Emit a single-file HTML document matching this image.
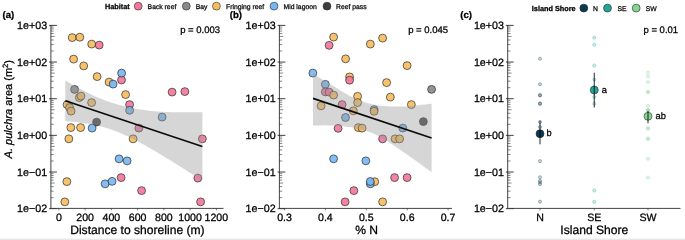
<!DOCTYPE html>
<html><head><meta charset="utf-8"><title>figure</title>
<style>html,body{margin:0;padding:0;background:#fff;}body{width:685px;height:240px;overflow:hidden;font-family:"Liberation Sans", sans-serif;}#fig text{stroke:#000;stroke-width:0.27px;}#fig{display:block;font-family:"Liberation Sans", sans-serif;text-rendering:geometricPrecision;will-change:transform}</style>
</head><body>
<svg width="685" height="240" viewBox="0 0 685 240" id="fig">
<rect width="685" height="240" fill="#fff"/>
<rect x="0" y="238.6" width="685" height="1.4" fill="#e8e8e8"/>
<path d="M50.9 25.1V208.4" stroke="#3a3a3a" stroke-width="0.95" fill="none"/>
<path d="M50.9 51.02H53.7M50.9 44.56H53.7M50.9 39.98H53.7M50.9 36.43H54.7M50.9 33.53H53.7M50.9 31.08H53.7M50.9 28.95H53.7M50.9 27.08H53.7M50.9 87.67H53.7M50.9 81.21H53.7M50.9 76.63H53.7M50.9 73.08H54.7M50.9 70.18H53.7M50.9 67.73H53.7M50.9 65.60H53.7M50.9 63.73H53.7M50.9 124.32H53.7M50.9 117.86H53.7M50.9 113.28H53.7M50.9 109.73H54.7M50.9 106.83H53.7M50.9 104.38H53.7M50.9 102.25H53.7M50.9 100.38H53.7M50.9 160.97H53.7M50.9 154.51H53.7M50.9 149.93H53.7M50.9 146.38H54.7M50.9 143.48H53.7M50.9 141.03H53.7M50.9 138.90H53.7M50.9 137.03H53.7M50.9 197.62H53.7M50.9 191.16H53.7M50.9 186.58H53.7M50.9 183.03H54.7M50.9 180.13H53.7M50.9 177.68H53.7M50.9 175.55H53.7M50.9 173.68H53.7" stroke="#222" stroke-width="0.55" fill="none"/>
<path d="M49.1 25.40H56.9M49.1 62.05H56.9M49.1 98.70H56.9M49.1 135.35H56.9M49.1 172.00H56.9M49.1 208.65H56.9" stroke="#111" stroke-width="0.8" fill="none"/>
<text x="47.15" y="29.15" font-size="10.7" text-anchor="end" fill="#000">1e+03</text>
<text x="47.15" y="65.80" font-size="10.7" text-anchor="end" fill="#000">1e+02</text>
<text x="47.15" y="102.45" font-size="10.7" text-anchor="end" fill="#000">1e+01</text>
<text x="47.15" y="139.10" font-size="10.7" text-anchor="end" fill="#000">1e+00</text>
<text x="47.15" y="175.75" font-size="10.7" text-anchor="end" fill="#000">1e−01</text>
<text x="47.15" y="212.40" font-size="10.7" text-anchor="end" fill="#000">1e−02</text>
<path d="M50.5 208.4H223.5" stroke="#3a3a3a" stroke-width="0.95" fill="none"/>
<path d="M58.85 208.4v1.9M85.10 208.4v1.9M111.35 208.4v1.9M137.60 208.4v1.9M163.85 208.4v1.9M190.10 208.4v1.9M216.35 208.4v1.9" stroke="#3a3a3a" stroke-width="0.7" fill="none"/>
<circle cx="72.2" cy="37.6" r="3.95" fill="#f6bd60" fill-opacity="0.92" stroke="#262626" stroke-width="0.68"/>
<circle cx="79.85" cy="37.2" r="3.95" fill="#f6bd60" fill-opacity="0.92" stroke="#262626" stroke-width="0.68"/>
<circle cx="91.7" cy="44.1" r="3.95" fill="#f6bd60" fill-opacity="0.92" stroke="#262626" stroke-width="0.68"/>
<circle cx="99.2" cy="45.1" r="3.95" fill="#f2789a" fill-opacity="0.92" stroke="#262626" stroke-width="0.68"/>
<circle cx="73.6" cy="59.1" r="3.95" fill="#f6bd60" fill-opacity="0.92" stroke="#262626" stroke-width="0.68"/>
<circle cx="83.7" cy="65.9" r="3.95" fill="#f6bd60" fill-opacity="0.92" stroke="#262626" stroke-width="0.68"/>
<circle cx="97.1" cy="76.6" r="3.95" fill="#f6bd60" fill-opacity="0.92" stroke="#262626" stroke-width="0.68"/>
<circle cx="109.1" cy="82.1" r="3.95" fill="#f6bd60" fill-opacity="0.92" stroke="#262626" stroke-width="0.68"/>
<circle cx="113.1" cy="84.1" r="3.95" fill="#78b7f1" fill-opacity="0.92" stroke="#262626" stroke-width="0.68"/>
<circle cx="121.5" cy="80.0" r="3.95" fill="#f2789a" fill-opacity="0.92" stroke="#262626" stroke-width="0.68"/>
<circle cx="121.6" cy="73.1" r="3.95" fill="#78b7f1" fill-opacity="0.92" stroke="#262626" stroke-width="0.68"/>
<circle cx="125.6" cy="94.6" r="3.95" fill="#f6bd60" fill-opacity="0.92" stroke="#262626" stroke-width="0.68"/>
<circle cx="129.6" cy="104.6" r="3.95" fill="#f2789a" fill-opacity="0.92" stroke="#262626" stroke-width="0.68"/>
<circle cx="129.6" cy="110.3" r="3.95" fill="#78b7f1" fill-opacity="0.92" stroke="#262626" stroke-width="0.68"/>
<circle cx="172.1" cy="92.1" r="3.95" fill="#f2789a" fill-opacity="0.92" stroke="#262626" stroke-width="0.68"/>
<circle cx="184.85" cy="91.6" r="3.95" fill="#f2789a" fill-opacity="0.92" stroke="#262626" stroke-width="0.68"/>
<circle cx="162.1" cy="117.1" r="3.95" fill="#78b7f1" fill-opacity="0.92" stroke="#262626" stroke-width="0.68"/>
<circle cx="74.6" cy="89.4" r="3.95" fill="#8a8a8a" fill-opacity="0.92" stroke="#262626" stroke-width="0.68"/>
<circle cx="79.3" cy="97.6" r="3.95" fill="#f6bd60" fill-opacity="0.92" stroke="#262626" stroke-width="0.68"/>
<circle cx="81.0" cy="96.1" r="3.95" fill="#f6bd60" fill-opacity="0.92" stroke="#262626" stroke-width="0.68"/>
<circle cx="91.6" cy="102.6" r="3.95" fill="#f6bd60" fill-opacity="0.92" stroke="#262626" stroke-width="0.68"/>
<circle cx="67.1" cy="104.6" r="3.95" fill="#f6bd60" fill-opacity="0.92" stroke="#262626" stroke-width="0.68"/>
<circle cx="69.6" cy="107.6" r="3.95" fill="#f6bd60" fill-opacity="0.92" stroke="#262626" stroke-width="0.68"/>
<circle cx="71.1" cy="111.1" r="3.95" fill="#f6bd60" fill-opacity="0.92" stroke="#262626" stroke-width="0.68"/>
<circle cx="96.6" cy="122.1" r="3.95" fill="#3d3d3d" fill-opacity="0.92" stroke="#262626" stroke-width="0.68"/>
<circle cx="70.85" cy="127.6" r="3.95" fill="#f6bd60" fill-opacity="0.92" stroke="#262626" stroke-width="0.68"/>
<circle cx="80.6" cy="127.6" r="3.95" fill="#f6bd60" fill-opacity="0.92" stroke="#262626" stroke-width="0.68"/>
<circle cx="92.1" cy="128.1" r="3.95" fill="#78b7f1" fill-opacity="0.92" stroke="#262626" stroke-width="0.68"/>
<circle cx="68.85" cy="138.85" r="3.95" fill="#f6bd60" fill-opacity="0.92" stroke="#262626" stroke-width="0.68"/>
<circle cx="138.85" cy="128.1" r="3.95" fill="#f2789a" fill-opacity="0.92" stroke="#262626" stroke-width="0.68"/>
<circle cx="133.1" cy="138.85" r="3.95" fill="#f6bd60" fill-opacity="0.92" stroke="#262626" stroke-width="0.68"/>
<circle cx="119.1" cy="158.85" r="3.95" fill="#78b7f1" fill-opacity="0.92" stroke="#262626" stroke-width="0.68"/>
<circle cx="127.1" cy="160.85" r="3.95" fill="#78b7f1" fill-opacity="0.92" stroke="#262626" stroke-width="0.68"/>
<circle cx="121.1" cy="177.6" r="3.95" fill="#f2789a" fill-opacity="0.92" stroke="#262626" stroke-width="0.68"/>
<circle cx="105.1" cy="183.85" r="3.95" fill="#78b7f1" fill-opacity="0.92" stroke="#262626" stroke-width="0.68"/>
<circle cx="112.1" cy="181.35" r="3.95" fill="#78b7f1" fill-opacity="0.92" stroke="#262626" stroke-width="0.68"/>
<circle cx="66.85" cy="181.6" r="3.95" fill="#f6bd60" fill-opacity="0.92" stroke="#262626" stroke-width="0.68"/>
<circle cx="141.6" cy="190.6" r="3.95" fill="#f2789a" fill-opacity="0.92" stroke="#262626" stroke-width="0.68"/>
<circle cx="64.85" cy="201.85" r="3.95" fill="#f6bd60" fill-opacity="0.92" stroke="#262626" stroke-width="0.68"/>
<circle cx="202.35" cy="138.85" r="3.95" fill="#f2789a" fill-opacity="0.92" stroke="#262626" stroke-width="0.68"/>
<circle cx="197.85" cy="178.1" r="3.95" fill="#f2789a" fill-opacity="0.92" stroke="#262626" stroke-width="0.68"/>
<circle cx="200.6" cy="201.85" r="3.95" fill="#f2789a" fill-opacity="0.92" stroke="#262626" stroke-width="0.68"/>
<path d="M65.3 80.4 L68.7 82.4 L72.2 84.4 L75.6 86.3 L79.0 88.2 L82.4 90.0 L85.9 91.8 L89.3 93.5 L92.7 95.2 L96.1 96.7 L99.6 98.2 L103.0 99.6 L106.4 100.9 L109.8 102.1 L113.3 103.2 L116.7 104.2 L120.1 105.2 L123.5 106.1 L127.0 106.9 L130.4 107.7 L133.8 108.4 L137.3 109.0 L140.7 109.6 L144.1 110.1 L147.5 110.6 L151.0 110.9 L154.4 111.2 L157.8 111.4 L161.2 111.7 L164.7 111.9 L168.1 112.1 L171.5 112.2 L174.9 112.3 L178.4 112.3 L181.8 112.3 L185.2 112.3 L188.6 112.3 L192.1 112.3 L195.5 112.3 L198.9 112.2 L202.4 112.2 L202.4 180.7 L198.9 178.4 L195.5 176.2 L192.1 174.0 L188.6 171.9 L185.2 169.7 L181.8 167.5 L178.4 165.3 L174.9 163.2 L171.5 161.1 L168.1 159.0 L164.7 156.9 L161.2 154.8 L157.8 152.7 L154.4 150.7 L151.0 148.7 L147.5 146.7 L144.1 144.8 L140.7 142.9 L137.3 141.1 L133.8 139.3 L130.4 137.6 L127.0 136.0 L123.5 134.4 L120.1 132.9 L116.7 131.6 L113.3 130.3 L109.8 129.1 L106.4 128.0 L103.0 127.0 L99.6 126.1 L96.1 125.3 L92.7 124.6 L89.3 124.0 L85.9 123.4 L82.4 122.9 L79.0 122.4 L75.6 122.0 L72.2 121.7 L68.7 121.4 L65.3 121.1Z" fill="#999" fill-opacity="0.4"/>
<path d="M65.3 100.75L202.35 146.43" stroke="#0a0a0a" stroke-width="1.65" fill="none"/>
<text x="58.85" y="220.6" font-size="10.6" text-anchor="middle" fill="#000">0</text>
<text x="85.1" y="220.6" font-size="10.6" text-anchor="middle" fill="#000">200</text>
<text x="111.35" y="220.6" font-size="10.6" text-anchor="middle" fill="#000">400</text>
<text x="137.6" y="220.6" font-size="10.6" text-anchor="middle" fill="#000">600</text>
<text x="163.85" y="220.6" font-size="10.6" text-anchor="middle" fill="#000">800</text>
<text x="190.1" y="220.6" font-size="10.6" text-anchor="middle" fill="#000">1000</text>
<text x="216.35" y="220.6" font-size="10.6" text-anchor="middle" fill="#000">1200</text>
<text x="137.4" y="233.6" font-size="12.1" text-anchor="middle" fill="#000">Distance to shoreline (m)</text>
<text transform="translate(11.6,109.2) rotate(-90)" font-size="11" text-anchor="middle" fill="#000"><tspan font-style="italic">A. pulchra</tspan> area (m<tspan font-size="7.7" dy="-3.6">2</tspan><tspan dy="3.6">)</tspan></text>
<text x="2.6" y="18.1" font-size="9.6" font-weight="bold" fill="#000">(a)</text>
<text x="180.2" y="33.3" font-size="9.5" fill="#000">p = 0.003</text>
<text x="105" y="8.6" font-size="7.3" font-weight="bold" fill="#000">Habitat</text>
<circle cx="138.2" cy="6.15" r="3.95" fill="#f2789a" stroke="#2b2b2b" stroke-width="0.6"/>
<text x="147.6" y="8.5" font-size="6.8" fill="#222">Back reef</text>
<circle cx="186.3" cy="6.15" r="3.95" fill="#8a8a8a" stroke="#2b2b2b" stroke-width="0.6"/>
<text x="195.7" y="8.5" font-size="6.8" fill="#222">Bay</text>
<circle cx="216.4" cy="6.15" r="3.95" fill="#f6bd60" stroke="#2b2b2b" stroke-width="0.6"/>
<text x="226" y="8.5" font-size="6.8" fill="#222">Fringing reef</text>
<circle cx="274" cy="6.15" r="3.95" fill="#78b7f1" stroke="#2b2b2b" stroke-width="0.6"/>
<text x="283.5" y="8.5" font-size="6.8" fill="#222">Mid lagoon</text>
<circle cx="327" cy="6.15" r="3.95" fill="#3d3d3d" stroke="#2b2b2b" stroke-width="0.6"/>
<text x="336" y="8.5" font-size="6.8" fill="#222">Reef pass</text>
<path d="M279.4 25.1V208.4" stroke="#3a3a3a" stroke-width="0.95" fill="none"/>
<path d="M279.4 51.02H282.2M279.4 44.56H282.2M279.4 39.98H282.2M279.4 36.43H283.2M279.4 33.53H282.2M279.4 31.08H282.2M279.4 28.95H282.2M279.4 27.08H282.2M279.4 87.67H282.2M279.4 81.21H282.2M279.4 76.63H282.2M279.4 73.08H283.2M279.4 70.18H282.2M279.4 67.73H282.2M279.4 65.60H282.2M279.4 63.73H282.2M279.4 124.32H282.2M279.4 117.86H282.2M279.4 113.28H282.2M279.4 109.73H283.2M279.4 106.83H282.2M279.4 104.38H282.2M279.4 102.25H282.2M279.4 100.38H282.2M279.4 160.97H282.2M279.4 154.51H282.2M279.4 149.93H282.2M279.4 146.38H283.2M279.4 143.48H282.2M279.4 141.03H282.2M279.4 138.90H282.2M279.4 137.03H282.2M279.4 197.62H282.2M279.4 191.16H282.2M279.4 186.58H282.2M279.4 183.03H283.2M279.4 180.13H282.2M279.4 177.68H282.2M279.4 175.55H282.2M279.4 173.68H282.2" stroke="#222" stroke-width="0.55" fill="none"/>
<path d="M277.6 25.40H285.4M277.6 62.05H285.4M277.6 98.70H285.4M277.6 135.35H285.4M277.6 172.00H285.4M277.6 208.65H285.4" stroke="#111" stroke-width="0.8" fill="none"/>
<text x="275.65" y="29.15" font-size="10.7" text-anchor="end" fill="#000">1e+03</text>
<text x="275.65" y="65.80" font-size="10.7" text-anchor="end" fill="#000">1e+02</text>
<text x="275.65" y="102.45" font-size="10.7" text-anchor="end" fill="#000">1e+01</text>
<text x="275.65" y="139.10" font-size="10.7" text-anchor="end" fill="#000">1e+00</text>
<text x="275.65" y="175.75" font-size="10.7" text-anchor="end" fill="#000">1e−01</text>
<text x="275.65" y="212.40" font-size="10.7" text-anchor="end" fill="#000">1e−02</text>
<path d="M279.0 208.4H452" stroke="#3a3a3a" stroke-width="0.95" fill="none"/>
<path d="M284.50 208.4v1.9M325.40 208.4v1.9M366.30 208.4v1.9M407.20 208.4v1.9M448.10 208.4v1.9" stroke="#3a3a3a" stroke-width="0.7" fill="none"/>
<circle cx="333.6" cy="37.1" r="3.95" fill="#f6bd60" fill-opacity="0.92" stroke="#262626" stroke-width="0.68"/>
<circle cx="329.1" cy="45.35" r="3.95" fill="#f2789a" fill-opacity="0.92" stroke="#262626" stroke-width="0.68"/>
<circle cx="382.6" cy="38.1" r="3.95" fill="#f6bd60" fill-opacity="0.92" stroke="#262626" stroke-width="0.68"/>
<circle cx="370.35" cy="44.1" r="3.95" fill="#f6bd60" fill-opacity="0.92" stroke="#262626" stroke-width="0.68"/>
<circle cx="345.6" cy="58.85" r="3.95" fill="#f6bd60" fill-opacity="0.92" stroke="#262626" stroke-width="0.68"/>
<circle cx="407.1" cy="65.6" r="3.95" fill="#f6bd60" fill-opacity="0.92" stroke="#262626" stroke-width="0.68"/>
<circle cx="312.85" cy="73.1" r="3.95" fill="#78b7f1" fill-opacity="0.92" stroke="#262626" stroke-width="0.68"/>
<circle cx="349.6" cy="76.9" r="3.95" fill="#f6bd60" fill-opacity="0.92" stroke="#262626" stroke-width="0.68"/>
<circle cx="349.6" cy="80.2" r="3.95" fill="#f2789a" fill-opacity="0.92" stroke="#262626" stroke-width="0.68"/>
<circle cx="386.6" cy="82.6" r="3.95" fill="#f6bd60" fill-opacity="0.92" stroke="#262626" stroke-width="0.68"/>
<circle cx="325.35" cy="84.35" r="3.95" fill="#78b7f1" fill-opacity="0.92" stroke="#262626" stroke-width="0.68"/>
<circle cx="431.6" cy="89.35" r="3.95" fill="#8a8a8a" fill-opacity="0.92" stroke="#262626" stroke-width="0.68"/>
<circle cx="325.35" cy="91.85" r="3.95" fill="#f2789a" fill-opacity="0.92" stroke="#262626" stroke-width="0.68"/>
<circle cx="329.1" cy="92.1" r="3.95" fill="#f2789a" fill-opacity="0.92" stroke="#262626" stroke-width="0.68"/>
<circle cx="333.6" cy="95.1" r="3.95" fill="#f6bd60" fill-opacity="0.92" stroke="#262626" stroke-width="0.68"/>
<circle cx="357.6" cy="96.35" r="3.95" fill="#f6bd60" fill-opacity="0.92" stroke="#262626" stroke-width="0.68"/>
<circle cx="390.35" cy="97.1" r="3.95" fill="#f6bd60" fill-opacity="0.92" stroke="#262626" stroke-width="0.68"/>
<circle cx="357.6" cy="102.6" r="3.95" fill="#f6bd60" fill-opacity="0.92" stroke="#262626" stroke-width="0.68"/>
<circle cx="342.1" cy="104.6" r="3.95" fill="#f2789a" fill-opacity="0.92" stroke="#262626" stroke-width="0.68"/>
<circle cx="321.1" cy="105.85" r="3.95" fill="#f6bd60" fill-opacity="0.92" stroke="#262626" stroke-width="0.68"/>
<circle cx="411.35" cy="104.6" r="3.95" fill="#f6bd60" fill-opacity="0.92" stroke="#262626" stroke-width="0.68"/>
<circle cx="374.1" cy="109.6" r="3.95" fill="#78b7f1" fill-opacity="0.92" stroke="#262626" stroke-width="0.68"/>
<circle cx="374.1" cy="111.35" r="3.95" fill="#f6bd60" fill-opacity="0.92" stroke="#262626" stroke-width="0.68"/>
<circle cx="353.35" cy="110.85" r="3.95" fill="#f6bd60" fill-opacity="0.92" stroke="#262626" stroke-width="0.68"/>
<circle cx="345.5" cy="117.5" r="3.95" fill="#78b7f1" fill-opacity="0.92" stroke="#262626" stroke-width="0.68"/>
<circle cx="423.35" cy="121.6" r="3.95" fill="#3d3d3d" fill-opacity="0.92" stroke="#262626" stroke-width="0.68"/>
<circle cx="358.35" cy="127.6" r="3.95" fill="#f6bd60" fill-opacity="0.92" stroke="#262626" stroke-width="0.68"/>
<circle cx="362.1" cy="128.1" r="3.95" fill="#f6bd60" fill-opacity="0.92" stroke="#262626" stroke-width="0.68"/>
<circle cx="402.85" cy="128.1" r="3.95" fill="#78b7f1" fill-opacity="0.92" stroke="#262626" stroke-width="0.68"/>
<circle cx="338.1" cy="128.35" r="3.95" fill="#f2789a" fill-opacity="0.92" stroke="#262626" stroke-width="0.68"/>
<circle cx="382.6" cy="138.85" r="3.95" fill="#f2789a" fill-opacity="0.92" stroke="#262626" stroke-width="0.68"/>
<circle cx="395.1" cy="138.85" r="3.95" fill="#f6bd60" fill-opacity="0.92" stroke="#262626" stroke-width="0.68"/>
<circle cx="399.6" cy="138.85" r="3.95" fill="#f6bd60" fill-opacity="0.92" stroke="#262626" stroke-width="0.68"/>
<circle cx="333.6" cy="158.85" r="3.95" fill="#78b7f1" fill-opacity="0.92" stroke="#262626" stroke-width="0.68"/>
<circle cx="365.85" cy="160.85" r="3.95" fill="#78b7f1" fill-opacity="0.92" stroke="#262626" stroke-width="0.68"/>
<circle cx="394.6" cy="177.6" r="3.95" fill="#f2789a" fill-opacity="0.92" stroke="#262626" stroke-width="0.68"/>
<circle cx="407.1" cy="177.6" r="3.95" fill="#f2789a" fill-opacity="0.92" stroke="#262626" stroke-width="0.68"/>
<circle cx="374.7" cy="181.7" r="3.95" fill="#f6bd60" fill-opacity="0.92" stroke="#262626" stroke-width="0.68"/>
<circle cx="370.3" cy="183.8" r="3.95" fill="#78b7f1" fill-opacity="0.92" stroke="#262626" stroke-width="0.68"/>
<circle cx="370.3" cy="181.5" r="3.95" fill="#78b7f1" fill-opacity="0.92" stroke="#262626" stroke-width="0.68"/>
<circle cx="353.85" cy="190.6" r="3.95" fill="#f2789a" fill-opacity="0.92" stroke="#262626" stroke-width="0.68"/>
<circle cx="345.1" cy="201.85" r="3.95" fill="#f2789a" fill-opacity="0.92" stroke="#262626" stroke-width="0.68"/>
<circle cx="382.6" cy="201.85" r="3.95" fill="#f6bd60" fill-opacity="0.92" stroke="#262626" stroke-width="0.68"/>
<path d="M313.0 73.5 L316.0 75.4 L318.9 77.3 L321.9 79.2 L324.9 81.0 L327.8 82.8 L330.8 84.5 L333.8 86.2 L336.7 88.1 L339.7 90.0 L342.6 91.9 L345.6 93.6 L348.6 95.3 L351.5 96.8 L354.5 98.2 L357.5 99.6 L360.4 100.7 L363.4 101.7 L366.4 102.7 L369.3 103.5 L372.3 104.2 L375.3 104.8 L378.2 105.4 L381.2 105.8 L384.2 106.1 L387.1 106.3 L390.1 106.4 L393.1 106.5 L396.0 106.5 L399.0 106.5 L402.0 106.4 L404.9 106.4 L407.9 106.2 L410.8 106.0 L413.8 105.7 L416.8 105.4 L419.7 105.1 L422.7 104.8 L425.7 104.5 L428.6 104.1 L431.6 103.8 L431.6 172.2 L428.6 170.1 L425.7 167.9 L422.7 165.7 L419.7 163.6 L416.8 161.5 L413.8 159.3 L410.8 157.2 L407.9 155.1 L404.9 153.1 L402.0 151.0 L399.0 149.0 L396.0 147.0 L393.1 145.0 L390.1 143.1 L387.1 141.3 L384.2 139.4 L381.2 137.7 L378.2 136.0 L375.3 134.4 L372.3 133.0 L369.3 131.9 L366.4 130.8 L363.4 129.9 L360.4 129.1 L357.5 128.4 L354.5 127.8 L351.5 127.3 L348.6 127.0 L345.6 126.7 L342.6 126.3 L339.7 126.0 L336.7 125.8 L333.8 125.6 L330.8 125.4 L327.8 125.4 L324.9 125.3 L321.9 125.3 L318.9 125.4 L316.0 125.4 L313.0 125.5Z" fill="#999" fill-opacity="0.4"/>
<path d="M313 98.4L431.6 138.04" stroke="#0a0a0a" stroke-width="1.65" fill="none"/>
<text x="284.5" y="220.6" font-size="10.6" text-anchor="middle" fill="#000">0.3</text>
<text x="325.4" y="220.6" font-size="10.6" text-anchor="middle" fill="#000">0.4</text>
<text x="366.3" y="220.6" font-size="10.6" text-anchor="middle" fill="#000">0.5</text>
<text x="407.2" y="220.6" font-size="10.6" text-anchor="middle" fill="#000">0.6</text>
<text x="448.1" y="220.6" font-size="10.6" text-anchor="middle" fill="#000">0.7</text>
<text x="366.6" y="233.6" font-size="12.1" text-anchor="middle" fill="#000">% N</text>
<text x="229.8" y="18.1" font-size="9.6" font-weight="bold" fill="#000">(b)</text>
<text x="408.2" y="33.3" font-size="9.5" fill="#000">p = 0.045</text>
<path d="M507.7 25.1V208.4" stroke="#3a3a3a" stroke-width="0.95" fill="none"/>
<path d="M507.7 51.02H510.5M507.7 44.56H510.5M507.7 39.98H510.5M507.7 36.43H511.5M507.7 33.53H510.5M507.7 31.08H510.5M507.7 28.95H510.5M507.7 27.08H510.5M507.7 87.67H510.5M507.7 81.21H510.5M507.7 76.63H510.5M507.7 73.08H511.5M507.7 70.18H510.5M507.7 67.73H510.5M507.7 65.60H510.5M507.7 63.73H510.5M507.7 124.32H510.5M507.7 117.86H510.5M507.7 113.28H510.5M507.7 109.73H511.5M507.7 106.83H510.5M507.7 104.38H510.5M507.7 102.25H510.5M507.7 100.38H510.5M507.7 160.97H510.5M507.7 154.51H510.5M507.7 149.93H510.5M507.7 146.38H511.5M507.7 143.48H510.5M507.7 141.03H510.5M507.7 138.90H510.5M507.7 137.03H510.5M507.7 197.62H510.5M507.7 191.16H510.5M507.7 186.58H510.5M507.7 183.03H511.5M507.7 180.13H510.5M507.7 177.68H510.5M507.7 175.55H510.5M507.7 173.68H510.5" stroke="#222" stroke-width="0.55" fill="none"/>
<path d="M505.9 25.40H513.7M505.9 62.05H513.7M505.9 98.70H513.7M505.9 135.35H513.7M505.9 172.00H513.7M505.9 208.65H513.7" stroke="#111" stroke-width="0.8" fill="none"/>
<text x="503.95" y="29.15" font-size="10.7" text-anchor="end" fill="#000">1e+03</text>
<text x="503.95" y="65.80" font-size="10.7" text-anchor="end" fill="#000">1e+02</text>
<text x="503.95" y="102.45" font-size="10.7" text-anchor="end" fill="#000">1e+01</text>
<text x="503.95" y="139.10" font-size="10.7" text-anchor="end" fill="#000">1e+00</text>
<text x="503.95" y="175.75" font-size="10.7" text-anchor="end" fill="#000">1e−01</text>
<text x="503.95" y="212.40" font-size="10.7" text-anchor="end" fill="#000">1e−02</text>
<path d="M507.3 208.4H680.5" stroke="#3a3a3a" stroke-width="0.95" fill="none"/>
<path d="M540.00 208.4v1.9M594.25 208.4v1.9M648.00 208.4v1.9" stroke="#3a3a3a" stroke-width="0.7" fill="none"/>
<text x="460.3" y="18.1" font-size="9.6" font-weight="bold" fill="#000">(c)</text>
<text x="643.5" y="33.3" font-size="9.5" fill="#000">p = 0.01</text>
<text x="531.8" y="10.5" font-size="7.3" font-weight="bold" fill="#000">Island Shore</text>
<circle cx="583.8" cy="8.1" r="3.95" fill="#0b3954" stroke="#222" stroke-width="0.6"/>
<text x="593" y="10.7" font-size="6.8" fill="#222">N</text>
<circle cx="607.5" cy="8.1" r="3.95" fill="#21a69a" stroke="#222" stroke-width="0.6"/>
<text x="617.5" y="10.7" font-size="6.8" fill="#222">SE</text>
<circle cx="636.2" cy="8.1" r="3.95" fill="#86d693" stroke="#222" stroke-width="0.6"/>
<text x="645.8" y="10.7" font-size="6.8" fill="#222">SW</text>
<circle cx="540" cy="58.75" r="1.55" fill="#0b3954" fill-opacity="0.2" stroke="#0b3954" stroke-opacity="0.62" stroke-width="0.55"/>
<circle cx="540" cy="84.25" r="1.55" fill="#0b3954" fill-opacity="0.2" stroke="#0b3954" stroke-opacity="0.62" stroke-width="0.55"/>
<circle cx="540" cy="95" r="1.55" fill="#0b3954" fill-opacity="0.2" stroke="#0b3954" stroke-opacity="0.62" stroke-width="0.55"/>
<circle cx="540" cy="95.6" r="1.55" fill="#0b3954" fill-opacity="0.2" stroke="#0b3954" stroke-opacity="0.62" stroke-width="0.55"/>
<circle cx="540" cy="103.25" r="1.55" fill="#0b3954" fill-opacity="0.2" stroke="#0b3954" stroke-opacity="0.62" stroke-width="0.55"/>
<circle cx="540" cy="103.9" r="1.55" fill="#0b3954" fill-opacity="0.2" stroke="#0b3954" stroke-opacity="0.62" stroke-width="0.55"/>
<circle cx="540" cy="122" r="1.55" fill="#0b3954" fill-opacity="0.2" stroke="#0b3954" stroke-opacity="0.62" stroke-width="0.55"/>
<circle cx="540" cy="127" r="1.55" fill="#0b3954" fill-opacity="0.2" stroke="#0b3954" stroke-opacity="0.62" stroke-width="0.55"/>
<circle cx="540" cy="161.1" r="1.55" fill="#0b3954" fill-opacity="0.2" stroke="#0b3954" stroke-opacity="0.62" stroke-width="0.55"/>
<circle cx="540" cy="177.2" r="1.55" fill="#0b3954" fill-opacity="0.2" stroke="#0b3954" stroke-opacity="0.62" stroke-width="0.55"/>
<circle cx="540" cy="180.9" r="1.55" fill="#0b3954" fill-opacity="0.2" stroke="#0b3954" stroke-opacity="0.62" stroke-width="0.55"/>
<circle cx="540" cy="182.5" r="1.55" fill="#0b3954" fill-opacity="0.2" stroke="#0b3954" stroke-opacity="0.62" stroke-width="0.55"/>
<circle cx="540" cy="184.1" r="1.55" fill="#0b3954" fill-opacity="0.2" stroke="#0b3954" stroke-opacity="0.62" stroke-width="0.55"/>
<circle cx="540" cy="201.6" r="1.55" fill="#0b3954" fill-opacity="0.2" stroke="#0b3954" stroke-opacity="0.62" stroke-width="0.55"/>
<circle cx="594.25" cy="37.6" r="1.55" fill="#21a69a" fill-opacity="0.2" stroke="#21a69a" stroke-opacity="0.62" stroke-width="0.55"/>
<circle cx="594.25" cy="44.8" r="1.55" fill="#21a69a" fill-opacity="0.2" stroke="#21a69a" stroke-opacity="0.62" stroke-width="0.55"/>
<circle cx="594.25" cy="65.5" r="1.55" fill="#21a69a" fill-opacity="0.2" stroke="#21a69a" stroke-opacity="0.62" stroke-width="0.55"/>
<circle cx="594.25" cy="79.5" r="1.55" fill="#21a69a" fill-opacity="0.2" stroke="#21a69a" stroke-opacity="0.62" stroke-width="0.55"/>
<circle cx="594.25" cy="97" r="1.55" fill="#21a69a" fill-opacity="0.2" stroke="#21a69a" stroke-opacity="0.62" stroke-width="0.55"/>
<circle cx="594.25" cy="103.75" r="1.55" fill="#21a69a" fill-opacity="0.2" stroke="#21a69a" stroke-opacity="0.62" stroke-width="0.55"/>
<circle cx="594.25" cy="190.5" r="1.55" fill="#21a69a" fill-opacity="0.2" stroke="#21a69a" stroke-opacity="0.62" stroke-width="0.55"/>
<circle cx="594.25" cy="201.75" r="1.55" fill="#21a69a" fill-opacity="0.2" stroke="#21a69a" stroke-opacity="0.62" stroke-width="0.55"/>
<circle cx="648" cy="72.5" r="1.55" fill="#86d693" fill-opacity="0.2" stroke="#86d693" stroke-opacity="0.62" stroke-width="0.55"/>
<circle cx="648" cy="76.25" r="1.55" fill="#86d693" fill-opacity="0.2" stroke="#86d693" stroke-opacity="0.62" stroke-width="0.55"/>
<circle cx="648" cy="82" r="1.55" fill="#86d693" fill-opacity="0.2" stroke="#86d693" stroke-opacity="0.62" stroke-width="0.55"/>
<circle cx="648" cy="91.75" r="1.55" fill="#86d693" fill-opacity="0.2" stroke="#86d693" stroke-opacity="0.62" stroke-width="0.55"/>
<circle cx="648" cy="92.1" r="1.55" fill="#86d693" fill-opacity="0.2" stroke="#86d693" stroke-opacity="0.62" stroke-width="0.55"/>
<circle cx="648" cy="105.6" r="1.55" fill="#86d693" fill-opacity="0.2" stroke="#86d693" stroke-opacity="0.62" stroke-width="0.55"/>
<circle cx="648" cy="110.3" r="1.55" fill="#86d693" fill-opacity="0.2" stroke="#86d693" stroke-opacity="0.62" stroke-width="0.55"/>
<circle cx="648" cy="110.5" r="1.55" fill="#86d693" fill-opacity="0.2" stroke="#86d693" stroke-opacity="0.62" stroke-width="0.55"/>
<circle cx="648" cy="110.1" r="1.55" fill="#86d693" fill-opacity="0.2" stroke="#86d693" stroke-opacity="0.62" stroke-width="0.55"/>
<circle cx="648" cy="128.25" r="1.55" fill="#86d693" fill-opacity="0.2" stroke="#86d693" stroke-opacity="0.62" stroke-width="0.55"/>
<circle cx="648" cy="128.6" r="1.55" fill="#86d693" fill-opacity="0.2" stroke="#86d693" stroke-opacity="0.62" stroke-width="0.55"/>
<circle cx="648" cy="138.75" r="1.55" fill="#86d693" fill-opacity="0.2" stroke="#86d693" stroke-opacity="0.62" stroke-width="0.55"/>
<circle cx="648" cy="139" r="1.55" fill="#86d693" fill-opacity="0.2" stroke="#86d693" stroke-opacity="0.62" stroke-width="0.55"/>
<circle cx="648" cy="158.75" r="1.55" fill="#86d693" fill-opacity="0.2" stroke="#86d693" stroke-opacity="0.62" stroke-width="0.55"/>
<circle cx="648" cy="177.5" r="1.55" fill="#86d693" fill-opacity="0.2" stroke="#86d693" stroke-opacity="0.62" stroke-width="0.55"/>
<circle cx="540" cy="133.7" r="4.0" fill="#0b3954" stroke="#222" stroke-width="0.55"/>
<path d="M540 120.8V144.3" stroke="#000" stroke-width="0.85"/>
<text x="546.6" y="135.5" font-size="9.3" fill="#000">b</text>
<circle cx="594.25" cy="90" r="4.0" fill="#21a69a" stroke="#222" stroke-width="0.55"/>
<path d="M594.25 72.7V107.5" stroke="#000" stroke-width="0.85"/>
<text x="601.85" y="92.8" font-size="9.3" fill="#000">a</text>
<circle cx="648" cy="116.3" r="4.0" fill="#86d693" stroke="#222" stroke-width="0.55"/>
<path d="M648 110.8V123.3" stroke="#000" stroke-width="0.85"/>
<text x="655.6" y="119.3" font-size="9.3" fill="#000">ab</text>
<text x="540" y="220.6" font-size="10.6" text-anchor="middle" fill="#000">N</text>
<text x="594.25" y="220.6" font-size="10.6" text-anchor="middle" fill="#000">SE</text>
<text x="648" y="220.6" font-size="10.6" text-anchor="middle" fill="#000">SW</text>
<text x="594.3" y="233.6" font-size="12.1" text-anchor="middle" fill="#000">Island Shore</text>
</svg>
</body></html>
